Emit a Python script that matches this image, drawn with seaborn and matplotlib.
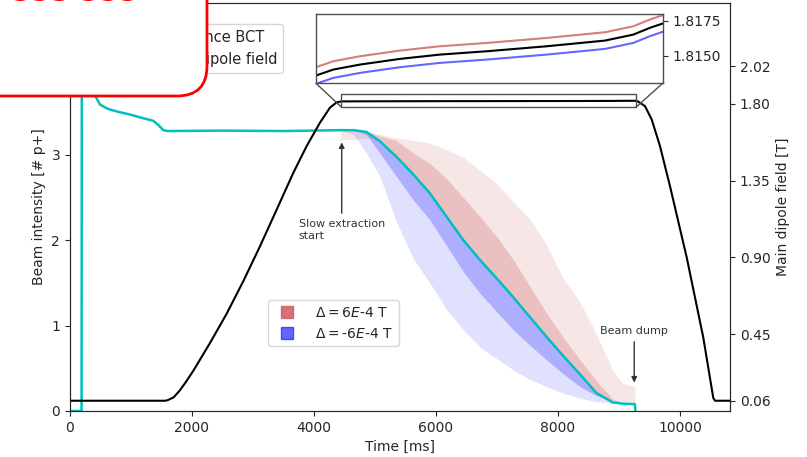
import matplotlib
matplotlib.use("Agg")
import matplotlib.pyplot as plt
import seaborn as sns
from matplotlib.lines import Line2D
from matplotlib.patches import FancyBboxPatch, Rectangle, ConnectionPatch
from matplotlib.ticker import FormatStrFormatter

# beam intensity (reference BCT), before slow extraction
t_pre = [0, 190, 195, 250, 330, 410, 492, 620, 765, 1000, 1202, 1366, 1450, 1530, 1600, 2500, 3500]
i_pre = [0, 0, 4.62, 4.35, 4.00, 3.70, 3.59, 3.54, 3.51, 3.47, 3.43, 3.40, 3.35, 3.29, 3.28, 3.285, 3.28]

# slow extraction window
t_ext = [4430, 4650, 4860, 5080, 5350, 5630, 5900, 6180, 6450, 6720,
         7000, 7270, 7540, 7810, 8080, 8360, 8630, 8900, 9070, 9260]
i_nom = [3.29, 3.29, 3.27, 3.16, 2.98, 2.77, 2.55, 2.27, 2.00, 1.77,
         1.55, 1.33, 1.10, 0.87, 0.65, 0.43, 0.21, 0.10, 0.085, 0.08]
# +6E-4 T bands
red_lo = [3.18, 3.18, 3.20, 3.16, 2.98, 2.77, 2.55, 2.27, 2.00, 1.77,
          1.55, 1.33, 1.10, 0.87, 0.65, 0.43, 0.21, 0.10, 0.085, 0.08]
red_mid = [3.29, 3.29, 3.28, 3.22, 3.17, 3.02, 2.90, 2.72, 2.50, 2.28,
           2.04, 1.77, 1.46, 1.15, 0.87, 0.60, 0.35, 0.14, 0.09, 0.08]
red_hi = [3.29, 3.29, 3.27, 3.24, 3.20, 3.17, 3.14, 3.06, 2.97, 2.82,
          2.66, 2.45, 2.25, 1.95, 1.56, 1.28, 0.90, 0.47, 0.32, 0.285]
# -6E-4 T bands
blue_mid = [3.29, 3.29, 3.24, 3.02, 2.75, 2.47, 2.24, 1.93, 1.63, 1.38,
            1.16, 0.95, 0.77, 0.60, 0.44, 0.285, 0.18, 0.11, 0.085, 0.08]
blue_lo = [3.29, 3.24, 3.02, 2.75, 2.22, 1.78, 1.50, 1.18, 0.95, 0.75,
           0.61, 0.48, 0.37, 0.285, 0.21, 0.15, 0.11, 0.09, 0.085, 0.08]
t_dump = [9270]
i_dump = [0]

# main dipole field
t_field = [0, 1560, 1600, 1700, 1800, 1900, 2021, 2295, 2569, 2841, 3115, 3389, 3661, 3880, 4098,
           4262, 4372, 4450, 4691, 5063, 5620, 6177, 6828, 7664, 8476, 8870, 9103, 9280,
           9317, 9426, 9536, 9672, 9836, 10110, 10382, 10546, 10574, 10820]
b_field = [0.06, 0.06, 0.063, 0.08, 0.12, 0.17, 0.235, 0.398, 0.57, 0.76, 0.965, 1.18, 1.395, 1.552, 1.689,
           1.777, 1.808, 1.8136, 1.8140, 1.81435, 1.81476, 1.81507, 1.81531, 1.81567, 1.81608, 1.81651, 1.8170, 1.81731,
           1.812, 1.786, 1.708, 1.552, 1.317, 0.90, 0.43, 0.076, 0.06, 0.06]

# zoom on the flat top
t_zoom = [4450, 4691, 5063, 5620, 6177, 6828, 7664, 8476, 8870, 9103, 9280]
b_nom = [1.81356, 1.81399, 1.81435, 1.81476, 1.81507, 1.81531, 1.81567, 1.81608, 1.81651, 1.81700, 1.81731]
b_hi = [1.81416, 1.81459, 1.81495, 1.81536, 1.81567, 1.81591, 1.81627, 1.81668, 1.81711, 1.81760, 1.81791]
b_lo = [1.81296, 1.81339, 1.81375, 1.81416, 1.81447, 1.81471, 1.81507, 1.81548, 1.81591, 1.81640, 1.81671]

field_ticks = [0.06, 0.45, 0.90, 1.35, 1.80, 2.02]

sns.set_style("ticks")
plt.rcParams['font.family'] = ['DejaVu Sans']

fig, ax = plt.subplots(figsize=(8.07, 4.57), dpi=100)
fig.subplots_adjust(left=0.0867, right=0.9046, bottom=0.1007, top=0.9934)

# bands
ax.fill_between(t_ext, blue_lo, i_nom, color='blue', alpha=0.12, lw=0)
ax.fill_between(t_ext, blue_mid, i_nom, color='blue', alpha=0.22, lw=0)
ax.fill_between(t_ext, red_lo, red_hi, color='indianred', alpha=0.15, lw=0)
ax.fill_between(t_ext, i_nom, red_mid, color='indianred', alpha=0.27, lw=0)

t_int = t_pre + t_ext + t_dump
i_int = i_pre + i_nom + i_dump
sns.lineplot(x=t_int, y=i_int, ax=ax, color='c', lw=1.8, sort=False, estimator=None, legend=False)

ax.set_xlim(0, 10820)
ax.set_ylim(0, 4.78)
ax.set_xlabel("Time [ms]")
ax.set_ylabel("Beam intensity [# p+]")
ax.set_yticks([0, 1, 2, 3, 4])

ax2 = ax.twinx()
sns.lineplot(x=t_field, y=b_field, ax=ax2, color='k', lw=1.5, sort=False, estimator=None, legend=False)
ax2.set_ylim(0, 2.39)
ax2.set_yticks(field_ticks)
ax2.yaxis.set_major_formatter(FormatStrFormatter('%.2f'))
ax2.set_ylabel("Main dipole field [T]")

# inset
axins = ax2.inset_axes([0.3727, 0.8032, 0.5253, 0.170])
sns.lineplot(x=t_zoom, y=b_hi, ax=axins, color='indianred', alpha=0.8, lw=1.5, legend=False)
sns.lineplot(x=t_zoom, y=b_nom, ax=axins, color='k', lw=1.5, legend=False)
sns.lineplot(x=t_zoom, y=b_lo, ax=axins, color='blue', alpha=0.6, lw=1.5, legend=False)
axins.set_xlim(4450, 9280)
axins.set_ylim(1.8130, 1.8180)
axins.set_xticks([])
axins.yaxis.tick_right()
axins.set_yticks([1.8150, 1.8175])
axins.yaxis.set_major_formatter(FormatStrFormatter('%.4f'))
axins.set_xlabel("")
axins.set_ylabel("")
for s in axins.spines.values():
    s.set_color('0.3')
    s.set_linewidth(1)

# zoom marker on the flat top + connectors
ax2.add_patch(Rectangle((4450, 1.780), 4830, 0.079, fill=False, ec='0.3', lw=1, zorder=4))
for xa, xb in [(0, 4450), (1, 9280)]:
    con = ConnectionPatch(xyA=(xa, 0), coordsA=axins.transAxes, xyB=(xb, 1.780), coordsB=ax2.transData,
                          color='0.3', lw=1)
    fig.add_artist(con)

# annotations
ax.annotate("Slow extraction\nstart", xy=(4455, 3.18), xytext=(4455, 2.12), ha='center', va='center',
            ma='left', fontsize=8, color='0.2',
            arrowprops=dict(arrowstyle='-|>', color='0.2', lw=1))
ax.annotate("Beam dump", xy=(9250, 0.30), xytext=(9250, 0.94), ha='center', va='center',
            fontsize=8, color='0.2',
            arrowprops=dict(arrowstyle='-|>', color='0.2', lw=1))

# legends
h_delta = [Line2D([], [], marker='s', ls='', color='indianred', alpha=0.85, markersize=9),
           Line2D([], [], marker='s', ls='', color='blue', alpha=0.6, markersize=9)]
ax.legend(h_delta, [r"$\Delta = 6E$-4 T", r"$\Delta =$-6$E$-4 T"], loc='lower left',
          bbox_to_anchor=(0.30, 0.159), borderaxespad=0, handlelength=2, handletextpad=1.0, fontsize=10)
h_main = [Line2D([], [], color='c', lw=1.8), Line2D([], [], color='k', lw=1.5)]
ax2.legend(h_main, ["Reference BCT", "Main dipole field"], loc='upper right',
           bbox_to_anchor=(0.323, 0.949), borderaxespad=0, fontsize=10.5)

# overlay box
box = FancyBboxPatch((-0.5, 3.61), 2.57, 1.6, boxstyle="round,pad=0,rounding_size=0.3",
                     transform=fig.dpi_scale_trans, fc='white', ec='red', lw=2, zorder=10)
fig.add_artist(box)
fig.text(12 / 807, (457 - 1.0) / 457, "353 333", color='red', fontsize=22, va='baseline', zorder=11)

fig.savefig("out.png", dpi=100)
